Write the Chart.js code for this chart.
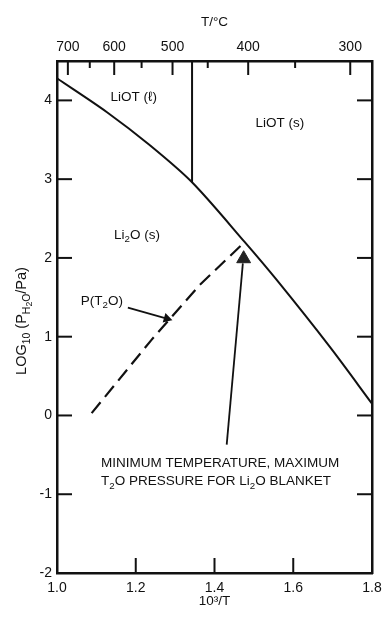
<!DOCTYPE html>
<html>
<head>
<meta charset="utf-8">
<script src="https://cdn.jsdelivr.net/npm/chart.js@4/dist/chart.umd.min.js"></script>
<style>
  body { margin: 0; background: #fff; }
</style>
</head>
<body>
<canvas id="chart" width="383" height="620"></canvas>
<script>
// Li2O / LiOT phase boundary
const curveX = [1.0, 1.127, 1.236, 1.343, 1.477, 1.558, 1.693, 1.8];
const curveY = [4.28, 3.85, 3.43, 2.96, 2.20, 1.72, 0.87, 0.15];

// LiOT melting line
const meltX = [1.343, 1.343];
const meltY = [4.5, 2.96];

// P(T2O) dashed line
const ptX = [1.088, 1.24, 1.363, 1.47];
const ptY = [0.03, 0.96, 1.66, 2.17];

// triangle marker and its pointer line
const markX = [1.474];
const markY = [1.99];
const pointerX = [1.431, 1.472];
const pointerY = [-0.37, 1.93];

// arrow from the P(T2O) label
const labelArrowX = [1.180, 1.279];
const labelArrowY = [1.37, 1.23];

const xTicks = [1.0, 1.2, 1.4, 1.6, 1.8];
const yTicks = [-2, -1, 0, 1, 2, 3, 4];
const topMajor = [700, 600, 500, 400, 300];
const topMinor = [650, 550, 450, 350];

const FONT = "'Liberation Sans', Arial, sans-serif";
const INK = '#111';

function toInv(tc) {
    return 1000 / (tc + 273.15);
}

function pts(xs, ys) {
    return xs.map((x, i) => ({x: x, y: ys[i]}));
}

function fontFor(kind, size) {
    let s = size;
    if (kind === 'sub') s = size * 0.72;
    if (kind === 'sub2') s = size * 0.6;
    return s + 'px ' + FONT;
}

function drawRich(ctx, parts, x, y, size, align) {
    let widths = parts.map(p => {
        ctx.font = fontFor(p[1], size);
        return ctx.measureText(p[0]).width;
    });
    let total = widths.reduce((a, b) => a + b, 0);
    let cx = align === 'center' ? x - total / 2 : x;
    ctx.textAlign = 'left';
    ctx.textBaseline = 'middle';
    parts.forEach((p, i) => {
        ctx.font = fontFor(p[1], size);
        let dy = 0;
        if (p[1] === 'sub') dy = size * 0.32;
        if (p[1] === 'sub2') dy = size * 0.55;
        ctx.fillText(p[0], cx, y + dy);
        cx += widths[i];
    });
}

function line(ctx, x1, y1, x2, y2) {
    ctx.beginPath();
    ctx.moveTo(x1, y1);
    ctx.lineTo(x2, y2);
    ctx.stroke();
}

const labels = [
    {x: 1.195, y: 4.04, align: 'center', parts: [['LiOT (\u2113)', 'n']]},
    {x: 1.566, y: 3.71, align: 'center', parts: [['LiOT (s)', 'n']]},
    {x: 1.203, y: 2.29, align: 'center', parts: [['Li', 'n'], ['2', 'sub'], ['O (s)', 'n']]},
    {x: 1.114, y: 1.45, align: 'center', parts: [['P(T', 'n'], ['2', 'sub'], ['O)', 'n']]},
    {x: 1.112, y: -0.61, align: 'left', parts: [['MINIMUM TEMPERATURE, MAXIMUM', 'n']]},
    {x: 1.112, y: -0.84, align: 'left', parts: [['T', 'n'], ['2', 'sub'], ['O PRESSURE FOR Li', 'n'], ['2', 'sub'], ['O BLANKET', 'n']]}
];

const decor = {
    id: 'decor',
    afterDraw(chart) {
        const ctx = chart.ctx;
        const a = chart.chartArea;
        const sx = chart.scales.x;
        const sx2 = chart.scales.x2;
        const sy = chart.scales.y;
        ctx.save();
        ctx.strokeStyle = INK;
        ctx.fillStyle = INK;
        ctx.lineWidth = 2;

        // inward tick marks
        yTicks.forEach(v => {
            if (v === -2) return;
            let py = sy.getPixelForValue(v);
            line(ctx, a.left, py, a.left + 15, py);
            line(ctx, a.right, py, a.right - 15, py);
        });
        xTicks.forEach(v => {
            if (v === 1.0 || v === 1.8) return;
            let px = sx.getPixelForValue(v);
            line(ctx, px, a.bottom, px, a.bottom - 15);
        });
        topMajor.forEach(t => {
            let px = sx2.getPixelForValue(toInv(t));
            line(ctx, px, a.top, px, a.top + 14);
        });
        topMinor.forEach(t => {
            let px = sx2.getPixelForValue(toInv(t));
            line(ctx, px, a.top, px, a.top + 7);
        });

        // region labels and note
        labels.forEach(l => {
            drawRich(ctx, l.parts, sx.getPixelForValue(l.x), sy.getPixelForValue(l.y), 13.5, l.align);
        });

        // y axis title
        ctx.translate(22, (a.top + a.bottom) / 2 + 4);
        ctx.rotate(-Math.PI / 2);
        drawRich(ctx, [['LOG', 'n'], ['10', 'sub'], [' (P', 'n'], ['H', 'sub'], ['2', 'sub2'], ['O', 'sub'], ['/Pa)', 'n']], 0, 0, 14.5, 'center');
        ctx.restore();
    }
};

const lineStyle = {
    showLine: true,
    borderColor: INK,
    backgroundColor: INK,
    pointRadius: 0,
    pointHoverRadius: 0,
    fill: false
};

function noPad(s) {
    s.paddingLeft = 0;
    s.paddingRight = 0;
    s.paddingTop = 0;
    s.paddingBottom = 0;
}

let ctx = document.getElementById('chart').getContext('2d');
let chart = new Chart(ctx, {
    type: 'scatter',
    data: {
        datasets: [
            Object.assign({}, lineStyle, {
                label: 'boundary',
                data: pts(curveX, curveY),
                borderWidth: 2,
                tension: 0.3
            }),
            Object.assign({}, lineStyle, {
                label: 'melting',
                data: pts(meltX, meltY),
                borderWidth: 2
            }),
            Object.assign({}, lineStyle, {
                label: 'P(T2O)',
                data: pts(ptX, ptY),
                borderWidth: 2.2,
                borderDash: [14, 7]
            }),
            {
                label: 'marker',
                data: pts(markX, markY),
                pointStyle: 'triangle',
                pointRadius: 8,
                pointHoverRadius: 8,
                backgroundColor: '#222',
                borderColor: '#222',
                borderWidth: 1
            },
            Object.assign({}, lineStyle, {
                label: 'pointer',
                data: pts(pointerX, pointerY),
                borderWidth: 1.8
            }),
            Object.assign({}, lineStyle, {
                label: 'label arrow',
                data: pts(labelArrowX, labelArrowY),
                borderWidth: 1.8,
                pointStyle: 'triangle',
                pointRadius: [0, 4],
                pointHoverRadius: [0, 4],
                pointRotation: [0, 106]
            })
        ]
    },
    options: {
        responsive: false,
        animation: false,
        events: [],
        layout: {padding: 0},
        plugins: {
            legend: {display: false},
            tooltip: {enabled: false}
        },
        scales: {
            x: {
                type: 'linear',
                position: 'bottom',
                min: 1.0,
                max: 1.8,
                afterBuildTicks: s => { s.ticks = xTicks.map(v => ({value: v})); },
                afterFit: s => { s.height = 47; noPad(s); },
                grid: {display: false, drawTicks: false, tickLength: 0},
                border: {display: true, color: INK, width: 2.5},
                ticks: {
                    autoSkip: false,
                    maxRotation: 0,
                    padding: 7,
                    color: INK,
                    font: {family: FONT, size: 14},
                    callback: v => v.toFixed(1)
                },
                title: {
                    display: true,
                    text: '10\u00b3/T',
                    color: INK,
                    font: {family: FONT, size: 13.5},
                    padding: {top: 0, bottom: 11}
                }
            },
            x2: {
                type: 'linear',
                position: 'top',
                min: 1.0,
                max: 1.8,
                afterBuildTicks: s => { s.ticks = topMajor.map(t => ({value: toInv(t)})); },
                afterFit: s => { s.height = 61; noPad(s); },
                grid: {display: false, drawTicks: false, tickLength: 0},
                border: {display: true, color: INK, width: 2.5},
                ticks: {
                    autoSkip: false,
                    maxRotation: 0,
                    padding: 5,
                    color: INK,
                    font: {family: FONT, size: 14},
                    callback: (v, i) => String(topMajor[i])
                },
                title: {
                    display: true,
                    text: 'T/\u00b0C',
                    color: INK,
                    font: {family: FONT, size: 13.5},
                    padding: {top: 14, bottom: 0}
                }
            },
            y: {
                type: 'linear',
                position: 'left',
                min: -2,
                max: 4.5,
                afterBuildTicks: s => { s.ticks = yTicks.map(v => ({value: v})); },
                afterFit: s => { s.width = 57; noPad(s); },
                grid: {display: false, drawTicks: false, tickLength: 0},
                border: {display: true, color: INK, width: 2.5},
                ticks: {
                    autoSkip: false,
                    padding: 5,
                    color: INK,
                    font: {family: FONT, size: 14},
                    callback: v => String(v)
                }
            },
            y2: {
                type: 'linear',
                position: 'right',
                min: -2,
                max: 4.5,
                afterFit: s => { s.width = 11; noPad(s); },
                grid: {display: false, drawTicks: false, tickLength: 0},
                border: {display: true, color: INK, width: 2.5},
                ticks: {display: false}
            }
        }
    },
    plugins: [decor]
});
</script>
</body>
</html>
